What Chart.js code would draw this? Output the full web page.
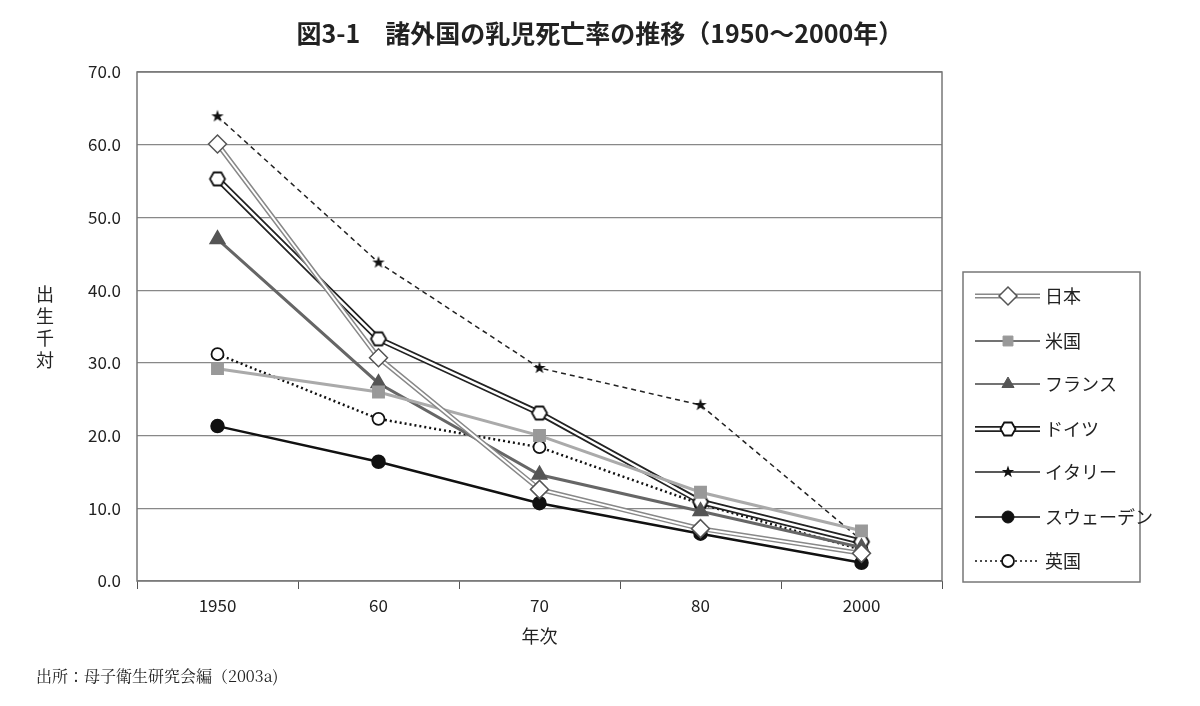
<!DOCTYPE html>
<html><head><meta charset="utf-8">
<script src="https://cdn.jsdelivr.net/npm/chart.js@4"></script>
<style>
body{margin:0;background:#fff;font-family:"Noto Sans CJK JP",sans-serif;}
#wrap{position:relative;width:1200px;height:706px;}
#title{position:absolute;top:14px;left:0;width:1200px;text-align:center;font-size:25px;font-weight:bold;color:#222;}
#ytitle{position:absolute;left:36px;top:282px;width:20px;font-size:18px;line-height:22px;color:#222;}
#src{position:absolute;left:36px;top:664px;font-family:"Noto Serif CJK JP","Liberation Serif",serif;font-size:16px;color:#222;}
</style></head><body>
<div id="wrap">
<canvas id="c" width="1200" height="706"></canvas>
<div id="title">図3-1　諸外国の乳児死亡率の推移（1950～2000年）</div>
<div id="ytitle">出生千対</div>
<div id="src">出所：母子衛生研究会編（2003a)</div>
</div>
<script>
// data
const years = ['1950', '60', '70', '80', '2000'];
const japan = [60.1, 30.7, 12.6, 7.2, 3.8];
const usa = [29.2, 26.0, 20.0, 12.2, 6.9];
const france = [47.0, 27.2, 14.6, 9.6, 4.6];
const germany = [55.3, 33.3, 23.1, 10.9, 5.4];
const italy = [63.9, 43.8, 29.3, 24.2, 5.6];
const sweden = [21.3, 16.4, 10.7, 6.5, 2.5];
const uk = [31.2, 22.3, 18.4, 10.6, 4.3];

function markCanvas(draw) {
  const c = document.createElement('canvas');
  c.width = 20; c.height = 20;
  draw(c.getContext('2d'));
  return c;
}
const starImg = markCanvas(g => {
  g.beginPath();
  for (let i = 0; i < 10; i++) {
    const r = i % 2 ? 2.6 : 6.5, a = -Math.PI / 2 + i * Math.PI / 5;
    g.lineTo(10 + r * Math.cos(a), 10 + r * Math.sin(a));
  }
  g.closePath(); g.fillStyle = '#111'; g.fill();
});
const hexImg = markCanvas(g => {
  g.beginPath();
  for (let i = 0; i < 6; i++) {
    const a = i * Math.PI / 3;
    g.lineTo(10 + 7.5 * Math.cos(a), 10 + 7.5 * Math.sin(a));
  }
  g.closePath(); g.fillStyle = '#fff'; g.fill();
  g.lineWidth = 1.8; g.strokeStyle = '#111'; g.stroke();
});

const datasets = [
  { label: '日本', data: japan, borderColor: '#fff', borderWidth: 2, outline: { color: '#888', width: 5 },
    pointStyle: 'rectRot', pointRadius: 9, pointBackgroundColor: '#fff', pointBorderColor: '#555', pointBorderWidth: 1.5 },
  { label: '米国', data: usa, borderColor: '#aaa', borderWidth: 3,
    pointStyle: 'rect', pointRadius: 7, pointBackgroundColor: '#999', pointBorderColor: '#999' },
  { label: 'フランス', data: france, borderColor: '#666', borderWidth: 3,
    pointStyle: 'triangle', pointRadius: 7, pointBackgroundColor: '#555', pointBorderColor: '#555' },
  { label: 'ドイツ', data: germany, borderColor: '#fff', borderWidth: 2.5, outline: { color: '#222', width: 6 },
    pointStyle: hexImg },
  { label: 'イタリー', data: italy, borderColor: '#222', borderWidth: 1.5, borderDash: [5, 4],
    pointStyle: starImg },
  { label: 'スウェーデン', data: sweden, borderColor: '#111', borderWidth: 2.5,
    pointStyle: 'circle', pointRadius: 6, pointBackgroundColor: '#111', pointBorderColor: '#111' },
  { label: '英国', data: uk, borderColor: '#111', borderWidth: 2.5, borderDash: [2, 3],
    pointStyle: 'circle', pointRadius: 6, pointBackgroundColor: '#fff', pointBorderColor: '#111', pointBorderWidth: 1.8 }
];
datasets.forEach(d => { d.fill = false; d.tension = 0; });

// thick underline behind double lines
const outlinePlugin = {
  id: 'outline',
  beforeDatasetDraw(chart, args) {
    const ds = chart.data.datasets[args.index];
    if (!ds.outline) return;
    const pts = args.meta.data, g = chart.ctx;
    g.save(); g.beginPath();
    pts.forEach((p, i) => i ? g.lineTo(p.x, p.y) : g.moveTo(p.x, p.y));
    g.strokeStyle = ds.outline.color; g.lineWidth = ds.outline.width; g.lineJoin = 'round'; g.stroke();
    g.restore();
  }
};

const framePlugin = {
  id: 'frame',
  afterDraw(chart) {
    const g = chart.ctx, a = chart.chartArea;
    g.save();
    g.strokeStyle = '#777'; g.lineWidth = 1.5;
    g.strokeRect(a.left, a.top, a.right - a.left, a.bottom - a.top);
    // legend
    const lx = 963, ly = 272;
    g.strokeRect(lx, ly, 177, 310);
    g.font = '18px "Noto Sans CJK JP"'; g.fillStyle = '#222'; g.textBaseline = 'middle';
    const rows = [296, 341, 384, 429, 472, 517, 561];
    chart.data.datasets.forEach((ds, i) => {
      const y = rows[i];
      const meta = chart.getDatasetMeta(i);
      g.save();
      if (ds.outline) {
        g.beginPath(); g.moveTo(975, y); g.lineTo(1040, y);
        g.strokeStyle = ds.outline.color; g.lineWidth = ds.outline.width; g.stroke();
      }
      g.beginPath(); g.moveTo(975, y); g.lineTo(1040, y);
      g.strokeStyle = ds.outline ? '#fff' : (ds.borderColor === '#aaa' || ds.borderColor === '#666' ? '#444' : ds.borderColor);
      g.lineWidth = ds.outline ? ds.borderWidth : 1.5;
      g.setLineDash(ds.borderDash && ds.borderDash[0] < 3 ? [2, 3] : []);
      g.stroke();
      g.restore();
      const el = meta.data[0];
      g.save();
      Chart.helpers.drawPoint(g, {
        pointStyle: ds.pointStyle, radius: ds.pointRadius || 6, rotation: 0,
        borderWidth: ds.pointBorderWidth || 1
      }, 1008, y);
      g.restore();
      g.fillText(ds.label, 1045, y);
    });
    g.restore();
  }
};

// legend marker colours come from the point element options
const origDraw = framePlugin.afterDraw;
framePlugin.afterDraw = function (chart) {
  const g = chart.ctx;
  const save = Chart.helpers.drawPoint;
  let idx = 0;
  Chart.helpers.drawPoint = function (ctx, o, x, y) {
    const ds = chart.data.datasets[idx++];
    ctx.fillStyle = ds.pointBackgroundColor || '#fff';
    ctx.strokeStyle = ds.pointBorderColor || '#111';
    ctx.lineWidth = ds.pointBorderWidth || 1;
    save(ctx, o, x, y);
  };
  origDraw(chart);
  Chart.helpers.drawPoint = save;
};

new Chart(document.getElementById('c'), {
  type: 'line',
  data: { labels: years, datasets },
  options: {
    responsive: false, animation: false,
    layout: { padding: { top: 72, right: 258, bottom: 55, left: 0 } },
    plugins: { legend: { display: false }, tooltip: { enabled: false } },
    scales: {
      x: {
        offset: true,
        grid: { offset: true, drawOnChartArea: false, color: '#555', tickLength: 8 },
        border: { display: false },
        ticks: { color: '#222', font: { size: 17, family: 'Noto Sans CJK JP' }, padding: 6 },
        title: { display: true, text: '年次', color: '#222', font: { size: 18, family: 'Noto Sans CJK JP' }, padding: { top: 2 } },
        afterFit: s => { s.height = 70; }
      },
      y: {
        min: 0, max: 70,
        grid: { color: '#888', lineWidth: 1.2, drawTicks: false },
        border: { display: false },
        ticks: { stepSize: 10, color: '#222', font: { size: 17, family: 'Noto Sans CJK JP' }, padding: 16,
          callback: v => v.toFixed(1) },
        afterFit: s => { s.width = 137; }
      }
    }
  },
  plugins: [outlinePlugin, framePlugin]
});
</script>
</body></html>
